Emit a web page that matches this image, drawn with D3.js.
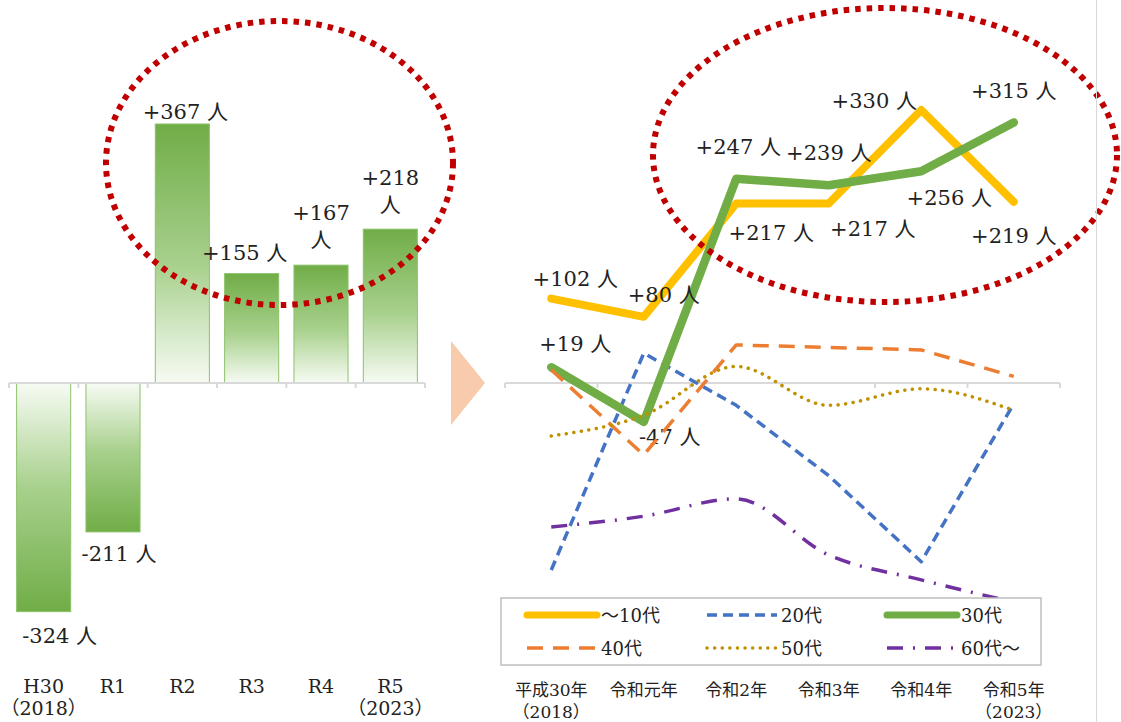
<!DOCTYPE html>
<html>

<head>
    <meta charset="utf-8">
    <title>年代別 社会増減</title>
    <style>
        body { margin: 0; background: #fff; }
    </style>
</head>

<body>
    <svg></svg>
    <script src="https://d3js.org/d3.v7.min.js"></script>

    <script>
        // left: total change per year
        var barCats = ['H30', 'R1', 'R2', 'R3', 'R4', 'R5'];
        var barSub = ['（2018）', '', '', '', '', '（2023）'];
        var barValues = [-324, -211, 367, 155, 167, 218];

        // right: change per age group
        var lineCats = ['平成30年', '令和元年', '令和2年', '令和3年', '令和4年', '令和5年'];
        var lineSub = ['（2018）', '', '', '', '', '（2023）'];
        var seriesNames = ['～10代', '20代', '30代', '40代', '50代', '60代～'];
        var teens = [102, 80, 217, 217, 330, 219];
        var twenties = [-226, 36, -27, -112, -216, -25];
        var thirties = [19, -47, 247, 239, 256, 315];
        var forties = [16, -87, 46, 43, 40, 8];
        var fifties = [-64, -39, 20, -27, -7, -33];
        var sixties = [-174, -161, -140, -208, -238, -265];

        var width = 1121, height = 722,
            font = '"DejaVu Serif", "Noto Sans CJK JP", serif',
            axisColor = '#d9d9d9';

        var svg = d3.select('svg')
            .attr('width', width)
            .attr('height', height)
            .style('font-family', font);

        function fmt(v) { return (v > 0 ? '+' : '-') + Math.abs(v) + ' 人'; }

        // gradients
        var defs = svg.append('defs');
        [['gradUp', '#70ad47', '#f7fbf4'], ['gradDown', '#f7fbf4', '#70ad47']].forEach(function (g) {
            var lg = defs.append('linearGradient').attr('id', g[0])
                .attr('x1', 0).attr('y1', 0).attr('x2', 0).attr('y2', 1);
            var mid = g[0] == 'gradUp' ? 0.55 : 0.45;
            lg.append('stop').attr('offset', 0).attr('stop-color', g[1]);
            lg.append('stop').attr('offset', mid).attr('stop-color', '#a9d18e');
            lg.append('stop').attr('offset', 1).attr('stop-color', g[2]);
        });

        // ---------- bar chart ----------
        var xB = d3.scaleBand().domain(barCats).range([9, 425]).paddingInner(0.22).paddingOuter(0.11);
        var yB = d3.scaleLinear().domain([0, 367]).range([383, 124]);
        var gB = svg.append('g');

        gB.selectAll('rect.bar').data(barValues).enter().append('rect')
            .attr('class', 'bar')
            .attr('x', (d, i) => xB(barCats[i]))
            .attr('width', xB.bandwidth())
            .attr('y', d => Math.min(yB(d), yB(0)))
            .attr('height', d => Math.abs(yB(d) - yB(0)))
            .attr('fill', d => d > 0 ? 'url(#gradUp)' : 'url(#gradDown)')
            .attr('stroke', '#8cc26a')
            .attr('stroke-width', 1);

        var stepB = xB.step(), x0B = xB.range()[0];
        gB.append('line')
            .attr('x1', x0B).attr('x2', xB.range()[1])
            .attr('y1', yB(0)).attr('y2', yB(0))
            .attr('stroke', axisColor).attr('stroke-width', 2);
        gB.selectAll('line.tick').data(d3.range(barCats.length + 1)).enter().append('line')
            .attr('x1', i => x0B + i * stepB).attr('x2', i => x0B + i * stepB)
            .attr('y1', yB(0)).attr('y2', yB(0) + 5)
            .attr('stroke', axisColor).attr('stroke-width', 2);

        var tB = gB.selectAll('text.cat').data(barCats).enter().append('text')
            .attr('class', 'cat')
            .attr('text-anchor', 'middle')
            .attr('font-size', 19)
            .attr('fill', '#222');
        tB.append('tspan').attr('x', d => xB(d) + xB.bandwidth() / 2).attr('y', 693).text(d => d);
        tB.append('tspan').attr('x', d => xB(d) + xB.bandwidth() / 2).attr('y', 715).text((d, i) => barSub[i]);

        // label nudges [dx, dy from bar end, wrap]
        var barLabelPos = [[16, 31, 0], [6, 29, 0], [3, -5, 0], [-7, -14, 0], [0, -45, 1], [0, -44, 1]];
        barValues.forEach(function (v, i) {
            var p = barLabelPos[i],
                cx = xB(barCats[i]) + xB.bandwidth() / 2 + p[0],
                t = gB.append('text').attr('text-anchor', 'middle').attr('font-size', 21).attr('fill', '#222');
            if (p[2]) {
                var s = fmt(v).split(' ');
                t.append('tspan').attr('x', cx).attr('y', yB(v) + p[1]).text(s[0]);
                t.append('tspan').attr('x', cx).attr('y', yB(v) + p[1] + 27).text(s[1]);
            } else {
                t.attr('x', cx).attr('y', yB(v) + p[1]).text(fmt(v));
            }
        });

        // arrow
        svg.append('path')
            .attr('d', d3.line()([[451, 341], [485, 383], [451, 425]]) + 'Z')
            .attr('fill', '#f8cbad');

        // ---------- line chart ----------
        var xL = d3.scaleBand().domain(lineCats).range([505, 1060]);
        var yL = d3.scaleLinear().domain([0, 330]).range([383, 110]);
        var cx = c => xL(c) + xL.bandwidth() / 2;
        var gL = svg.append('g');

        gL.append('line')
            .attr('x1', xL.range()[0]).attr('x2', xL.range()[1])
            .attr('y1', yL(0)).attr('y2', yL(0))
            .attr('stroke', axisColor).attr('stroke-width', 2);
        gL.selectAll('line.tick').data(d3.range(lineCats.length + 1)).enter().append('line')
            .attr('x1', i => xL.range()[0] + i * xL.step()).attr('x2', i => xL.range()[0] + i * xL.step())
            .attr('y1', yL(0)).attr('y2', yL(0) + 5)
            .attr('stroke', axisColor).attr('stroke-width', 2);

        var series = [
            { name: seriesNames[0], values: teens, color: '#ffc000', w: 8, dash: null, curve: d3.curveLinear },
            { name: seriesNames[1], values: twenties, color: '#4472c4', w: 3.5, dash: '10,6', curve: d3.curveLinear },
            { name: seriesNames[2], values: thirties, color: '#70ad47', w: 8.5, dash: null, curve: d3.curveLinear },
            { name: seriesNames[3], values: forties, color: '#ed7d31', w: 3.5, dash: '16,10', curve: d3.curveLinear },
            { name: seriesNames[4], values: fifties, color: '#bf9000', w: 3.5, dash: '0.1,7.5', curve: d3.curveMonotoneX, cap: 'round' },
            { name: seriesNames[5], values: sixties, color: '#7030a0', w: 3.5, dash: '16,10,2,10', curve: d3.curveMonotoneX }
        ];

        // point labels for the two thick lines [dx, dy]
        var teensPos = [[24, -13], [20, -15], [35, 37], [44, 33], [-47, -2], [0, 41]];
        var thirtiesPos = [[24, -16], [26, 22], [2, -25], [0, -25], [28, 34], [0, -24]];
        function pointLabels(vals, pos) {
            vals.forEach(function (v, i) {
                gL.append('text')
                    .attr('x', cx(lineCats[i]) + pos[i][0])
                    .attr('y', yL(v) + pos[i][1])
                    .attr('text-anchor', 'middle')
                    .attr('font-size', 21)
                    .attr('fill', '#222')
                    .text(fmt(v));
            });
        }

        series.forEach(function (s, k) {
            var line = d3.line()
                .x((d, i) => cx(lineCats[i]))
                .y(d => yL(d))
                .curve(s.curve);
            gL.append('path').attr('d', line(s.values))
                .attr('fill', 'none')
                .attr('stroke', s.color)
                .attr('stroke-width', s.w)
                .attr('stroke-dasharray', s.dash)
                .attr('stroke-linecap', s.dash && !s.cap ? 'butt' : 'round')
                .attr('stroke-linejoin', 'round');
            if (k == 2) {
                pointLabels(teens, teensPos);
                pointLabels(thirties, thirtiesPos);
            }
        });

        // legend
        var lg = svg.append('g');
        lg.append('rect').attr('x', 501).attr('y', 598).attr('width', 540).attr('height', 67)
            .attr('fill', '#fff').attr('stroke', '#bfbfbf').attr('stroke-width', 1.5);
        series.forEach(function (s, i) {
            var lx = 527 + (i % 3) * 180, ly = 615 + Math.floor(i / 3) * 33;
            lg.append('line').attr('x1', lx).attr('x2', lx + 70).attr('y1', ly).attr('y2', ly)
                .attr('stroke', s.color)
                .attr('stroke-width', s.w > 5 ? 7 : 3.5)
                .attr('stroke-dasharray', s.dash)
                .attr('stroke-linecap', s.dash && !s.cap ? 'butt' : 'round');
            lg.append('text').attr('x', lx + 74).attr('y', ly + 7)
                .attr('font-size', 18).attr('fill', '#222').text(s.name);
        });

        var tL = gL.selectAll('text.cat').data(lineCats).enter().append('text')
            .attr('class', 'cat')
            .attr('text-anchor', 'middle')
            .attr('font-size', 17)
            .attr('fill', '#222');
        tL.append('tspan').attr('x', d => cx(d)).attr('y', 696).text(d => d);
        tL.append('tspan').attr('x', d => cx(d)).attr('y', 718).text((d, i) => lineSub[i]);

        // red dotted ellipses
        [[279.5, 163, 173.5, 142], [885, 155, 232, 147]].forEach(function (e) {
            svg.append('ellipse')
                .attr('cx', e[0]).attr('cy', e[1]).attr('rx', e[2]).attr('ry', e[3])
                .attr('fill', 'none')
                .attr('stroke', '#c00000')
                .attr('stroke-width', 6)
                .attr('stroke-dasharray', '5.5,6');
        });

        svg.append('line').attr('x1', 1096.5).attr('x2', 1096.5).attr('y1', 0).attr('y2', height)
            .attr('stroke', axisColor).attr('stroke-width', 1);
    </script>
</body>

</html>
